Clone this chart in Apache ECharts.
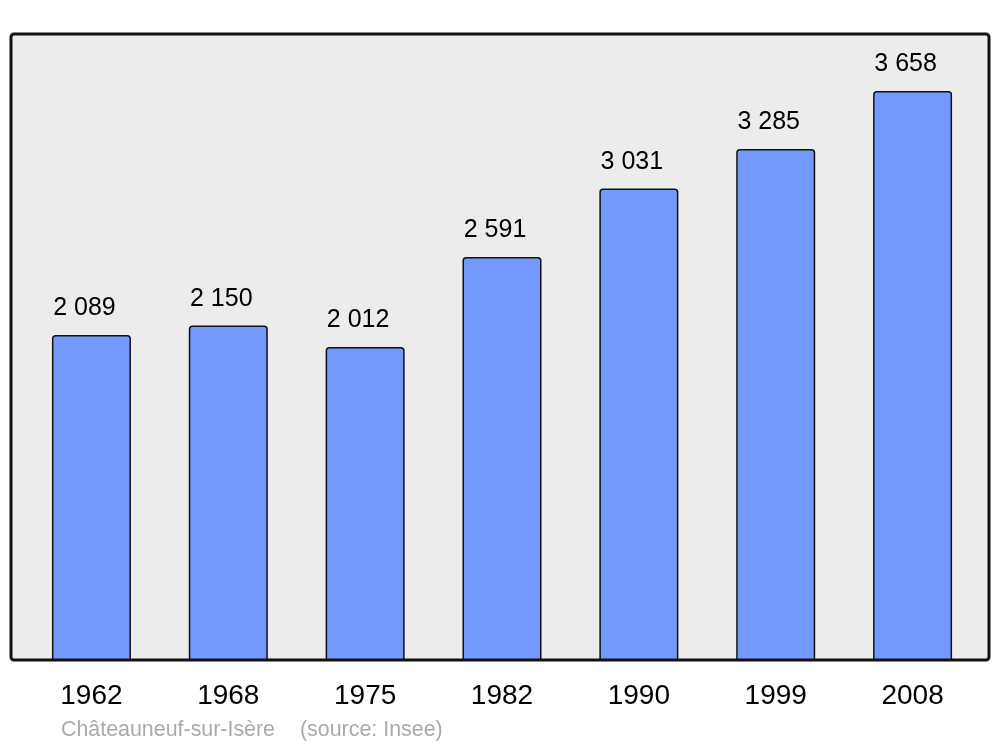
<!DOCTYPE html>
<html><head><meta charset="utf-8">
<script src="https://cdn.jsdelivr.net/npm/echarts@6/dist/echarts.min.js"></script>
<style>html,body{margin:0;padding:0;background:#fff}#c{width:1000px;height:747px}</style>
</head><body><div id="c"></div>
<script>
const years = ['1962','1968','1975','1982','1990','1999','2008'];
const population = [2089, 2150, 2012, 2591, 3031, 3285, 3658];
const footerTown = 'Châteauneuf-sur-Isère';
const footerSource = '(source: Insee)';

const fmt = v => String(v).replace(/\B(?=(\d{3})+(?!\d))/g, ' ');
const chart = echarts.init(document.getElementById('c'));
chart.setOption({
  animation: false,
  graphic: [
    { type: 'rect', z: -10, shape: { x: 11, y: 34, width: 978, height: 626, r: 3 },
      style: { fill: '#ececec', stroke: '#111', lineWidth: 3 } },
    { type: 'text', left: 61, top: 720, style: { text: footerTown, fill: '#aaaaaa', font: '21.4px "Liberation Sans", Arial, sans-serif' } },
    { type: 'text', left: 300, top: 720, style: { text: footerSource, fill: '#aaaaaa', font: '21.4px "Liberation Sans", Arial, sans-serif' } }
  ],
  grid: { left: 23, right: 19, top: 34, bottom: 87 },
  xAxis: {
    type: 'category', data: years,
    axisLine: { show: false }, axisTick: { show: false },
    axisLabel: { color: '#000', fontSize: 28, fontFamily: 'Liberation Sans', margin: 22 }
  },
  yAxis: { type: 'value', min: 0, max: 4025, show: false, splitLine: { show: false } },
  series: [{
    type: 'bar', data: population, barWidth: 79,
    itemStyle: { color: '#7399ff', borderColor: '#111', borderWidth: 1.5, borderRadius: [3,3,0,0] },
    label: { show: true, position: 'top', distance: 14, offset: [-7, 0], color: '#000', fontSize: 25,
      fontFamily: 'Liberation Sans', formatter: p => fmt(p.value) }
  }]
});
</script></body></html>
